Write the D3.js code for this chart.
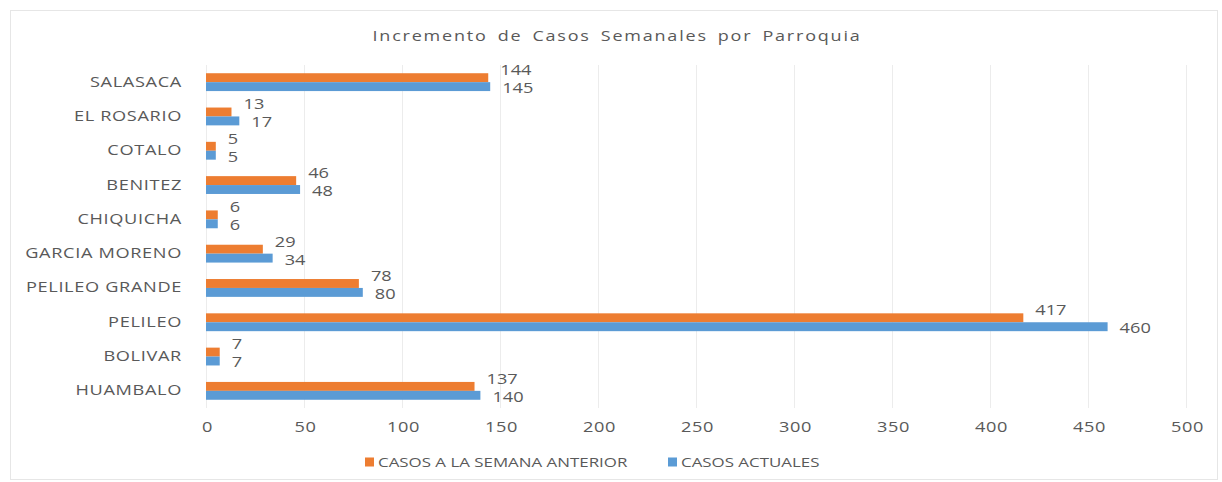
<!DOCTYPE html>
<html>
<head>
<meta charset="utf-8">
<script src="https://cdn.jsdelivr.net/npm/d3@7"></script>
<style>
  body { margin: 0; background: #fff; }
  text { font-family: "Open Sans", sans-serif; fill: #595959; }
</style>
</head>
<body>
<script>
//data (top to bottom, as in the picture)
var parroquias = ['SALASACA', 'EL ROSARIO', 'COTALO', 'BENITEZ', 'CHIQUICHA',
    'GARCIA MORENO', 'PELILEO GRANDE', 'PELILEO', 'BOLIVAR', 'HUAMBALO'];
var casos_anterior = [144, 13, 5, 46, 6, 29, 78, 417, 7, 137];
var casos_actuales = [145, 17, 5, 48, 6, 34, 80, 460, 7, 140];
var x_ticks = [0, 50, 100, 150, 200, 250, 300, 350, 400, 450, 500];
var series = [
    {'name': 'CASOS A LA SEMANA ANTERIOR', 'values': casos_anterior, 'color': '#ED7D31'},
    {'name': 'CASOS ACTUALES',             'values': casos_actuales, 'color': '#5B9BD5'}
];

//layout
var svg_width = 1222, svg_height = 482;
var plot_left = 206, plot_right = 1186, plot_top = 65, plot_bottom = 408;
var stretch = 'scale(1.3,1)'; //the source picture is stretched sideways

var svg = d3.select('body').append('svg')
    .attr('width', svg_width)
    .attr('height', svg_height);

//chart border
svg.append('rect')
    .attr('x', 10.5).attr('y', 10.5)
    .attr('width', 1207).attr('height', 469)
    .attr('fill', '#fff')
    .attr('stroke', '#e6e6e6');

//scales
var scale_x = d3.scaleLinear().domain([0, 500]).range([plot_left, plot_right]);
var scale_y = d3.scaleBand().domain(parroquias).range([plot_top, plot_bottom]).paddingInner(0.48).paddingOuter(0.24);
var scale_s = d3.scaleBand().domain([0, 1]).range([0, scale_y.bandwidth()]);

//grid
svg.append('g').selectAll('line').data(x_ticks).enter().append('line')
    .attr('x1', function(d) { return Math.round(scale_x(d)) + 0.5; })
    .attr('x2', function(d) { return Math.round(scale_x(d)) + 0.5; })
    .attr('y1', plot_top)
    .attr('y2', plot_bottom)
    .attr('stroke', '#ececec');

//x axis
var axis_x = d3.axisBottom(scale_x).tickValues(x_ticks).tickSize(0).tickPadding(0);
var gx = svg.append('g').attr('transform', 'translate(1,' + (plot_bottom + 14) + ')').call(axis_x);
gx.select('.domain').remove();
gx.selectAll('text')
    .attr('transform', stretch)
    .style('font-family', '"Open Sans", sans-serif')
    .style('font-size', '14px')
    .style('letter-spacing', '0.4px')
    .attr('fill', '#595959');

//y axis
var axis_y = d3.axisLeft(scale_y).tickSize(0).tickPadding(0);
var gy = svg.append('g').attr('transform', 'translate(' + (plot_left - 24) + ',0)').call(axis_y);
gy.select('.domain').remove();
gy.selectAll('text')
    .attr('transform', stretch)
    .style('font-family', '"Open Sans", sans-serif')
    .style('font-size', '14px')
    .style('letter-spacing', '0.5px')
    .attr('fill', '#595959');

//bars
var label_dy = [-12, 6];
series.forEach(function(s, si) {
    var g = svg.append('g');
    g.selectAll('rect').data(s.values).enter().append('rect')
        .attr('x', scale_x(0))
        .attr('y', function(d, i) { return scale_y(parroquias[i]) + scale_s(si); })
        .attr('width', function(d) { return scale_x(d) - scale_x(0); })
        .attr('height', scale_s.bandwidth())
        .attr('fill', s.color);
    g.selectAll('g.lbl').data(s.values).enter().append('g')
        .attr('class', 'lbl')
        .attr('transform', function(d, i) {
            return 'translate(' + (scale_x(d) + 12) + ',' +
                (scale_y(parroquias[i]) + scale_y.bandwidth() / 2 + label_dy[si]) + ')';
        })
        .append('text')
        .attr('transform', stretch)
        .attr('dy', '0.35em')
        .style('font-size', '14px')
        .attr('fill', '#404040')
        .text(function(d) { return d; });
});

//title
svg.append('g').attr('transform', 'translate(617,36)')
    .append('text')
    .attr('transform', 'scale(1.2,1)')
    .attr('text-anchor', 'middle')
    .attr('dy', '0.35em')
    .style('font-size', '15px')
    .style('letter-spacing', '1.5px')
    .style('word-spacing', '3px')
    .text('Incremento de Casos Semanales por Parroquia');

//legend
var legend_pos = [[365, 462], [668, 462]];
series.forEach(function(s, si) {
    var lg = svg.append('g').attr('transform', 'translate(' + legend_pos[si][0] + ',' + legend_pos[si][1] + ')');
    lg.append('rect').attr('x', 0).attr('y', -4.5).attr('width', 9).attr('height', 9).attr('fill', s.color);
    lg.append('g').attr('transform', 'translate(13,0)')
        .append('text')
        .attr('transform', stretch)
        .attr('dy', '0.35em')
        .style('font-size', '13px')
        .text(s.name);
});
</script>
</body>
</html>
